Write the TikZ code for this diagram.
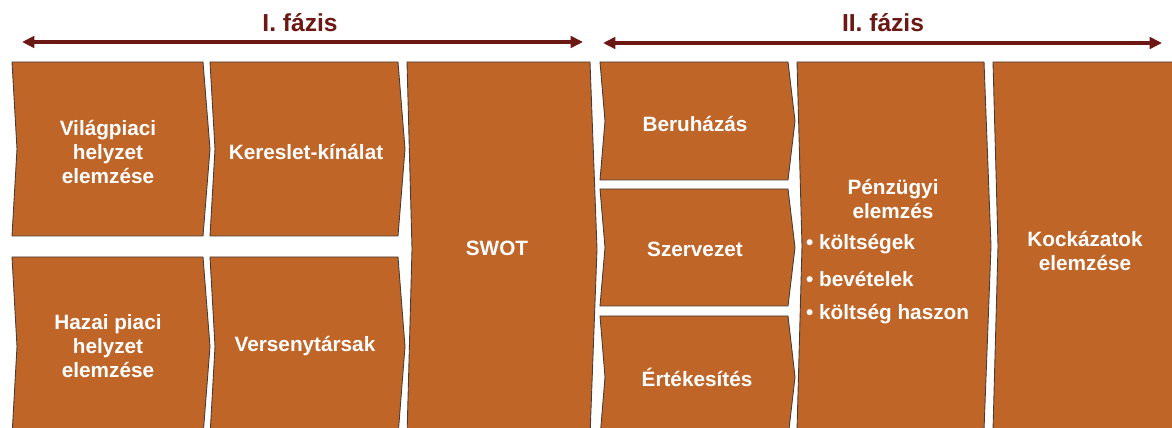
\documentclass[tikz,border=0pt]{standalone}
\usepackage{fontspec}
\setmainfont{Liberation Sans}
\usetikzlibrary{arrows.meta}
\definecolor{N}{RGB}{192, 101, 40}
\definecolor{K}{RGB}{70, 60, 55}
\definecolor{R}{RGB}{108, 24, 20}

% chevron block: x1, y1 (top), x2, y2 (bottom)
\newcommand{\blokk}[4]{%
  \filldraw[blokkvonal] (#1,#2) -- (#3,#2) -- (#3+7,{(#2+#4)/2}) -- (#3,#4)
    -- (#1,#4) -- (#1+5,{(#2+#4)/2}) -- cycle;}

\begin{document}
\begin{tikzpicture}[x=0.02cm, y=-0.02cm,
  blokkvonal/.style={fill=N, draw=K, line width=0.5pt, line join=round},
  szoveg/.style={text=white, font=\fontsize{11.8}{13.7}\selectfont\bfseries, align=center},
  fazis/.style={text=R, font=\fontsize{14}{16}\selectfont\bfseries},
  fazisnyil/.style={R, line width=2.3pt, {Triangle[length=7pt,width=6.5pt]}-{Triangle[length=7pt,width=6.5pt]}}]
  \useasboundingbox (0,0) rectangle (1172,428);
  \clip (0,0) rectangle (1172,428);

  %# FAZISOK
  \coordinate (f1b) at (22,42);
  \coordinate (f1j) at (583,42);
  \coordinate (f2b) at (603,43);
  \coordinate (f2j) at (1162,43);
  \draw[fazisnyil] (f1b) -- (f1j);
  \draw[fazisnyil] (f2b) -- (f2j);
  \node[fazis] (fazis1) at (300,23) {I. fázis};
  \node[fazis] (fazis2) at (883,23) {II. fázis};

  %# I. FAZIS BLOKKJAI
  \blokk{12}{62}{203}{236}
  \blokk{210}{62}{398}{236}
  \blokk{12}{257}{203}{436}
  \blokk{210}{257}{398}{436}
  \blokk{407}{62}{590}{436}

  %# II. FAZIS BLOKKJAI
  \blokk{600}{62}{788}{180}
  \blokk{600}{189}{788}{306}
  \blokk{600}{316}{788}{438}
  \blokk{797}{62}{984}{430}
  \blokk{993}{62}{1180}{430}

  %# SZOVEGEK
  \node[szoveg] (vilag) at (108,152) {Világpiaci\\helyzet\\elemzése};
  \node[szoveg] (kereslet) at (306,152) {Kereslet-kínálat};
  \node[szoveg] (hazai) at (108,346) {Hazai piaci\\helyzet\\elemzése};
  \node[szoveg] (verseny) at (305,346) {Versenytársak};
  \node[szoveg] (swot) at (497,248) {SWOT};
  \node[szoveg] (beruhazas) at (695,124) {Beruházás};
  \node[szoveg] (szervezet) at (695,249) {Szervezet};
  \node[szoveg] (ertekesites) at (697,377) {Értékesítés};
  \node[szoveg] (penzugy) at (893,199) {Pénzügyi\\elemzés};
  \node[szoveg, anchor=west] (koltseg) at (800,244) {• költségek};
  \node[szoveg, anchor=west] (bevetel) at (800,279) {• bevételek};
  \node[szoveg, anchor=west] (haszon) at (800,314) {• költség haszon};
  \node[szoveg] (kockazat) at (1085,251) {Kockázatok\\elemzése};
\end{tikzpicture}
\end{document}
